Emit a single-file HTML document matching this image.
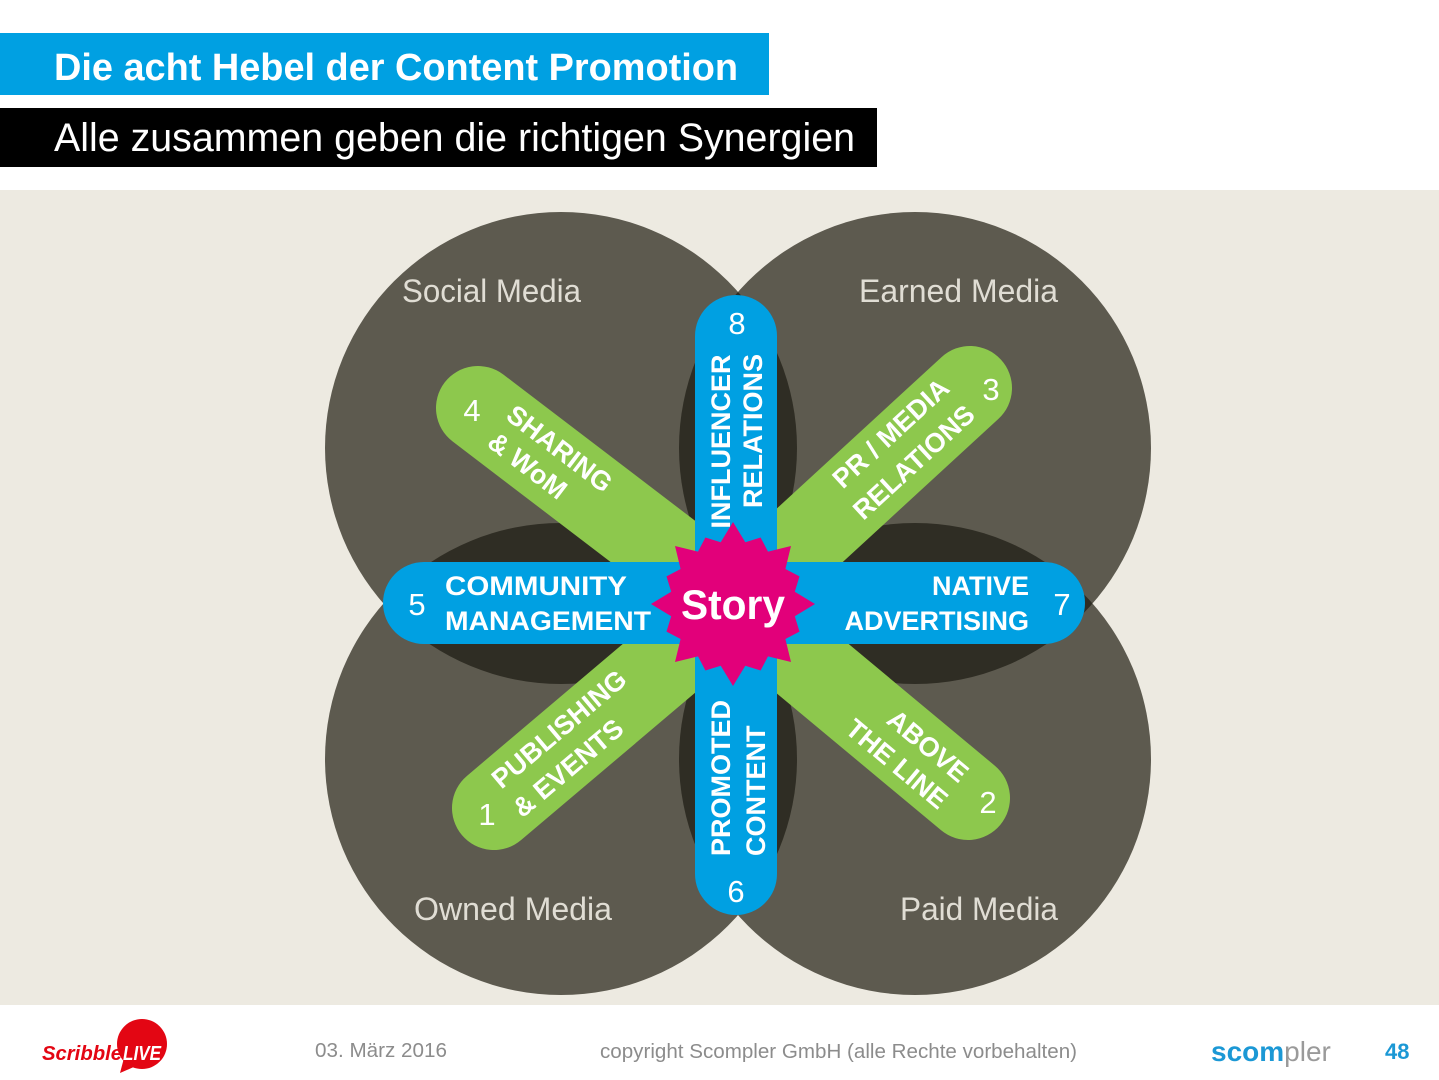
<!DOCTYPE html>
<html><head><meta charset="utf-8"><style>
html,body{margin:0;padding:0;background:#fff;width:1439px;height:1080px;overflow:hidden}
svg{display:block}
</style></head><body>
<svg width="1439" height="1080" viewBox="0 0 1439 1080" xmlns="http://www.w3.org/2000/svg" font-family="Liberation Sans, Arial, sans-serif">
<defs>
<clipPath id="cTL"><circle cx="561" cy="448" r="236"/></clipPath>
<clipPath id="cBR"><circle cx="915" cy="759" r="236"/></clipPath>
</defs>
<rect x="0" y="0" width="1439" height="1080" fill="#ffffff"/>
<!-- title -->
<rect x="0" y="33" width="769" height="62" fill="#00a0e2"/>
<text x="54" y="80" font-size="38" font-weight="bold" fill="#ffffff" textLength="684" lengthAdjust="spacingAndGlyphs">Die acht Hebel der Content Promotion</text>
<rect x="0" y="108" width="877" height="59" fill="#000000"/>
<text x="54" y="151" font-size="40" fill="#ffffff" textLength="801" lengthAdjust="spacingAndGlyphs">Alle zusammen geben die richtigen Synergien</text>
<!-- diagram bg -->
<rect x="0" y="190" width="1439" height="815" fill="#edeae1"/>
<!-- circles -->
<g fill="#5d5a4f">
<circle cx="561" cy="448" r="236"/>
<circle cx="915" cy="448" r="236"/>
<circle cx="561" cy="759" r="236"/>
<circle cx="915" cy="759" r="236"/>
</g>
<g fill="#2f2d24">
<circle cx="915" cy="448" r="236" clip-path="url(#cTL)"/>
<circle cx="561" cy="759" r="236" clip-path="url(#cTL)"/>
<circle cx="561" cy="759" r="236" clip-path="url(#cBR)"/>
<circle cx="915" cy="448" r="236" clip-path="url(#cBR)"/>
</g>
<!-- circle labels -->
<g font-size="32" fill="#e0ddd4">
<text x="402" y="302" textLength="179" lengthAdjust="spacingAndGlyphs">Social Media</text>
<text x="859" y="302" textLength="199" lengthAdjust="spacingAndGlyphs">Earned Media</text>
<text x="414" y="920" textLength="198" lengthAdjust="spacingAndGlyphs">Owned Media</text>
<text x="900" y="920" textLength="158" lengthAdjust="spacingAndGlyphs">Paid Media</text>
</g>
<!-- green bars -->
<g stroke="#8dc84d" stroke-width="84" stroke-linecap="round">
<line x1="735" y1="604" x2="478" y2="408"/>
<line x1="735" y1="604" x2="970" y2="388"/>
<line x1="735" y1="604" x2="494" y2="808"/>
<line x1="735" y1="604" x2="968" y2="798"/>
</g>
<!-- blue bars -->
<g stroke="#00a0e2" stroke-width="82" stroke-linecap="round">
<line x1="424" y1="603" x2="1044" y2="603"/>
<line x1="736" y1="336" x2="736" y2="874"/>
</g>
<!-- star -->
<polygon transform="translate(733,604)" fill="#e2007a" points="82,0 61.8,12.3 66.5,27.6 52.4,35 58,58 35,52.4 27.6,66.5 12.3,61.8 0,82 -12.3,61.8 -27.6,66.5 -35,52.4 -58,58 -52.4,35 -66.5,27.6 -61.8,12.3 -82,0 -61.8,-12.3 -66.5,-27.6 -52.4,-35 -58,-58 -35,-52.4 -27.6,-66.5 -12.3,-61.8 0,-82 12.3,-61.8 27.6,-66.5 35,-52.4 58,-58 52.4,-35 66.5,-27.6 61.8,-12.3"/>
<text x="733" y="619" font-size="42" font-weight="bold" fill="#ffffff" text-anchor="middle" textLength="104" lengthAdjust="spacingAndGlyphs">Story</text>
<!-- bar labels -->
<g font-size="27" font-weight="bold" fill="#ffffff">
<text x="445" y="595" textLength="182" lengthAdjust="spacingAndGlyphs">COMMUNITY</text>
<text x="445" y="630" textLength="206" lengthAdjust="spacingAndGlyphs">MANAGEMENT</text>
<text x="1029" y="595" text-anchor="end">NATIVE</text>
<text x="1029" y="630" text-anchor="end">ADVERTISING</text>
<text transform="translate(730,441.5) rotate(-90)" text-anchor="middle">INFLUENCER</text>
<text transform="translate(762,431) rotate(-90)" text-anchor="middle">RELATIONS</text>
<text transform="translate(730,856) rotate(-90)" text-anchor="start">PROMOTED</text>
<text transform="translate(765,856) rotate(-90)" text-anchor="start">CONTENT</text>
<text transform="translate(554,456) rotate(37.3)" text-anchor="middle">SHARING</text>
<text transform="translate(522,473) rotate(37.3)" text-anchor="middle">&amp; WoM</text>
<text transform="translate(897,440) rotate(-42.6)" text-anchor="middle">PR / MEDIA</text>
<text transform="translate(920,469) rotate(-42.6)" text-anchor="middle">RELATIONS</text>
<text transform="translate(565,736) rotate(-40.2)" text-anchor="middle">PUBLISHING</text>
<text transform="translate(574,775) rotate(-40.2)" text-anchor="middle">&amp; EVENTS</text>
<text transform="translate(922,753) rotate(39.8)" text-anchor="middle">ABOVE</text>
<text transform="translate(891,771) rotate(39.8)" text-anchor="middle">THE LINE</text>
</g>
<!-- numbers -->
<g font-size="31" fill="#ffffff" text-anchor="middle">
<text x="472" y="421">4</text>
<text x="991" y="400">3</text>
<text x="737" y="334">8</text>
<text x="417" y="615">5</text>
<text x="1062" y="615">7</text>
<text x="487" y="825">1</text>
<text x="988" y="813">2</text>
<text x="736" y="902">6</text>
</g>
<!-- footer -->
<circle cx="142" cy="1044" r="25" fill="#e30613"/>
<polygon points="124,1058 120,1073 136,1066" fill="#e30613"/>
<text x="42" y="1060" font-size="20" font-weight="bold" font-style="italic" fill="#e30613" textLength="80" lengthAdjust="spacingAndGlyphs">Scribble</text>
<text x="123" y="1060" font-size="20" font-weight="bold" font-style="italic" fill="#ffffff" textLength="38" lengthAdjust="spacingAndGlyphs">LIVE</text>
<text x="315" y="1057" font-size="20" fill="#8c8c8c" textLength="132" lengthAdjust="spacingAndGlyphs">03. März 2016</text>
<text x="600" y="1058" font-size="20" fill="#8c8c8c" textLength="477" lengthAdjust="spacingAndGlyphs">copyright Scompler GmbH (alle Rechte vorbehalten)</text>
<text x="1211" y="1061" font-size="28"><tspan font-weight="bold" fill="#1b98d5">scom</tspan><tspan fill="#9a9a9a">pler</tspan></text>
<text x="1385" y="1059" font-size="22" font-weight="bold" fill="#1b98d5">48</text>
</svg>
</body></html>
